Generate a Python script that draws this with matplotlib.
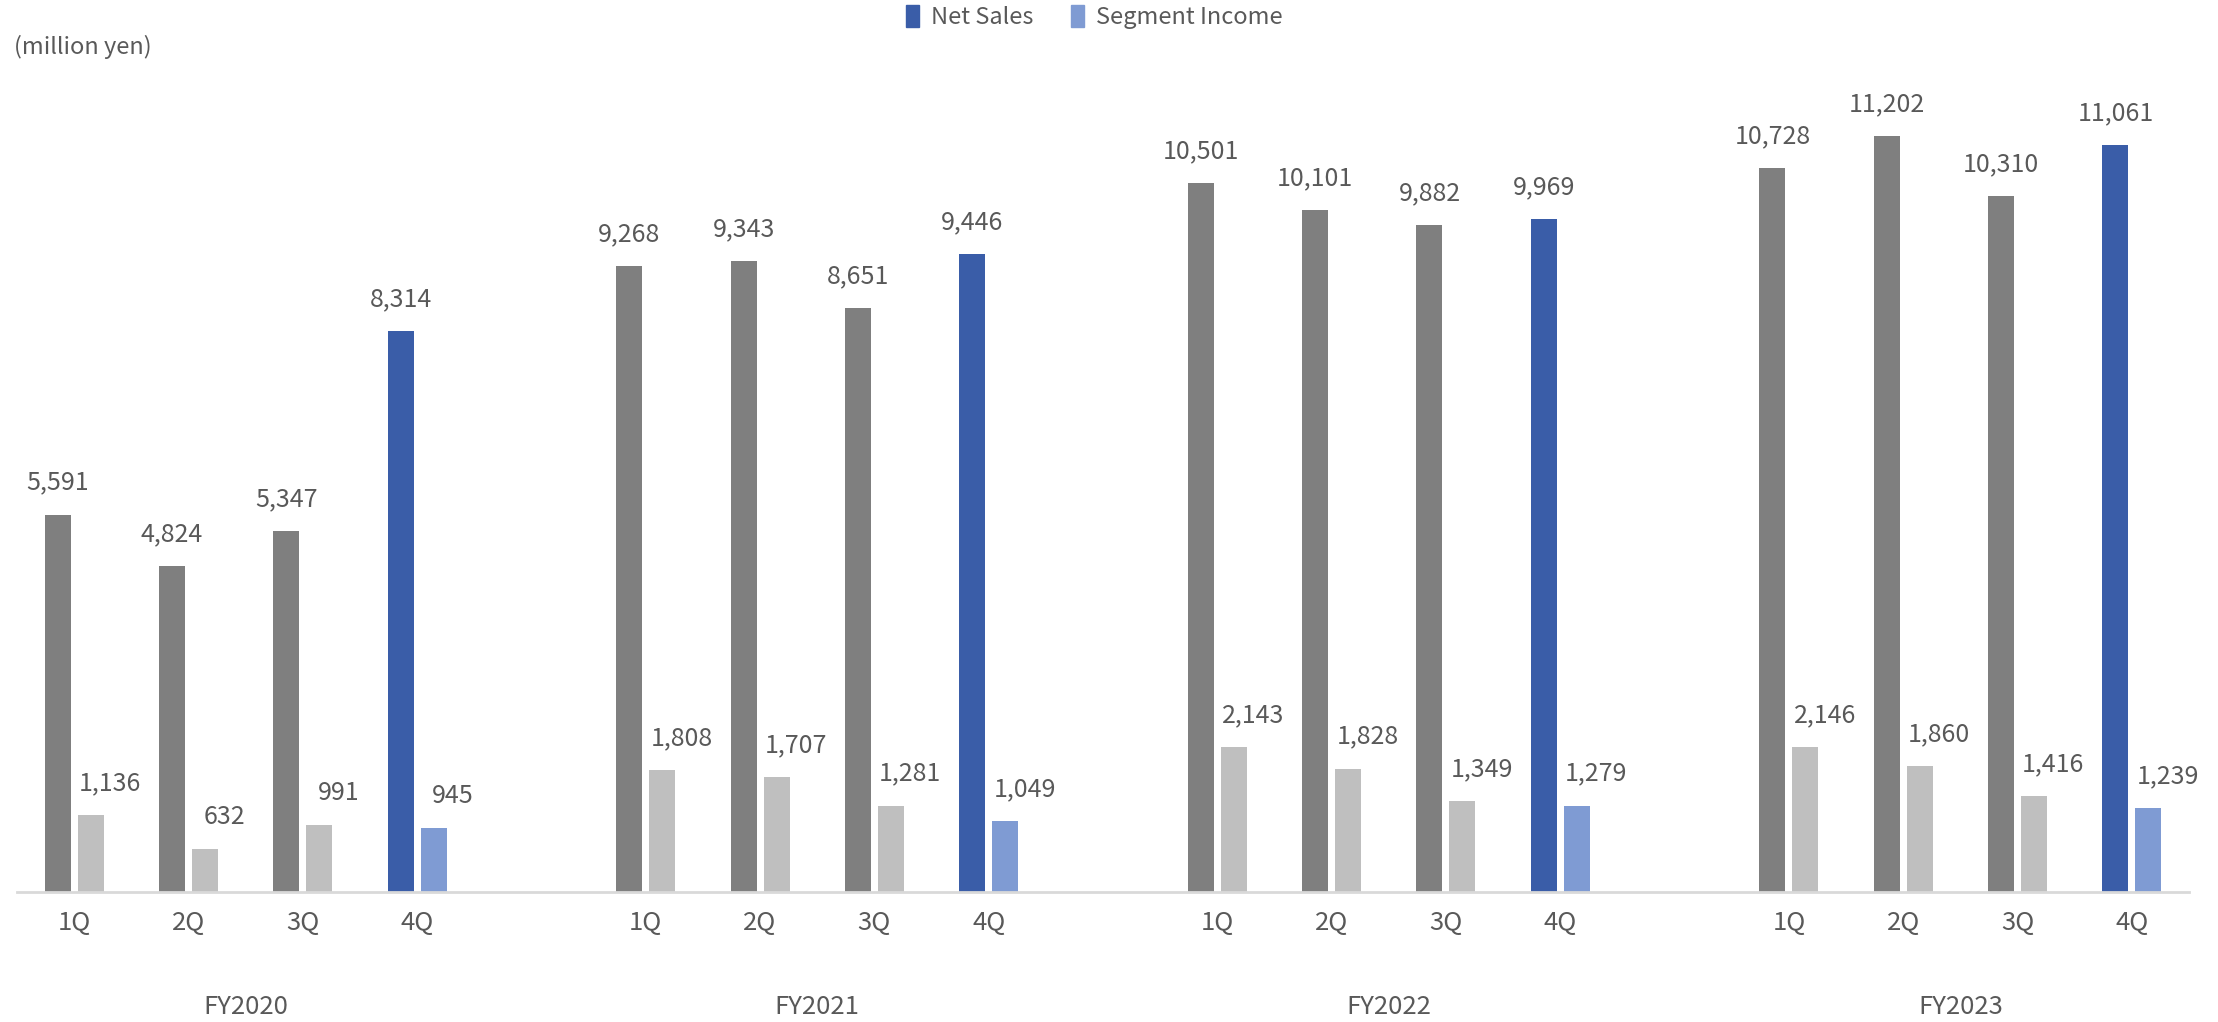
import matplotlib
matplotlib.use("Agg")
import matplotlib.pyplot as plt
from matplotlib.patches import Patch

plt.rcParams['font.family'] = ['Noto Sans CJK JP', 'DejaVu Sans']

# data (million yen)
years = ["FY2020", "FY2021", "FY2022", "FY2023"]
quarters = ["1Q", "2Q", "3Q", "4Q"]
net_sales = [
    [5591, 4824, 5347, 8314],
    [9268, 9343, 8651, 9446],
    [10501, 10101, 9882, 9969],
    [10728, 11202, 10310, 11061],
]
segment_income = [
    [1136, 632, 991, 945],
    [1808, 1707, 1281, 1049],
    [2143, 1828, 1349, 1279],
    [2146, 1860, 1416, 1239],
]

GRAY_DARK = "#7f7f7f"
GRAY_LIGHT = "#bfbfbf"
BLUE_DARK = "#3a5da8"
BLUE_LIGHT = "#7f9bd3"
TEXT = "#595959"

fig = plt.figure(figsize=(22.18, 10.22), dpi=100)
ax = fig.add_axes([17 / 2218, 130 / 1022, 2172 / 2218, 810 / 1022])

bw = 0.2275
off = 0.144
for yi, yr in enumerate(years):
    for qi, q in enumerate(quarters):
        x = yi * 5 + qi
        last = qi == len(quarters) - 1
        ns = net_sales[yi][qi]
        si = segment_income[yi][qi]
        ax.bar(x - off, ns, width=bw, color=BLUE_DARK if last else GRAY_DARK)
        ax.bar(x + off, si, width=bw, color=BLUE_LIGHT if last else GRAY_LIGHT)
        ax.annotate(f"{ns:,}", (x - off, ns), xytext=(0, 23), textcoords="offset points",
                    ha="center", va="center", fontsize=18, color=TEXT)
        ax.annotate(f"{si:,}", (x + off, si), xytext=(14, 23), textcoords="offset points",
                    ha="center", va="center", fontsize=18, color=TEXT)
        # quarter label
        ax.annotate(q, (x, 0), xytext=(0, -22), textcoords="offset points",
                    ha="center", va="center", fontsize=18.5, color=TEXT)
    ax.annotate(yr, (yi * 5 + 1.5, 0), xytext=(0, -83), textcoords="offset points",
                ha="center", va="center", fontsize=18.5, color=TEXT)

ax.set_xlim(-0.5, 18.5)
ax.set_ylim(0, 12000)
for s in ["top", "left", "right"]:
    ax.spines[s].set_visible(False)
ax.spines["bottom"].set_color("#d9d9d9")
ax.spines["bottom"].set_linewidth(2)
ax.set_xticks([])
ax.set_yticks([])

fig.text(14 / 2218, 1 - 47 / 1022, "(million yen)", ha="left", va="center",
         fontsize=17, color=TEXT)

handles = [Patch(color=BLUE_DARK, label="Net Sales"),
           Patch(color=BLUE_LIGHT, label="Segment Income")]
fig.legend(handles=handles, loc="center", bbox_to_anchor=(1094 / 2218, 1 - 17 / 1022),
           ncol=2, frameon=False, fontsize=17, labelcolor=TEXT,
           handlelength=0.55, handleheight=1.1, handletextpad=0.5, columnspacing=1.6)

fig.savefig("out.png", dpi=100)
